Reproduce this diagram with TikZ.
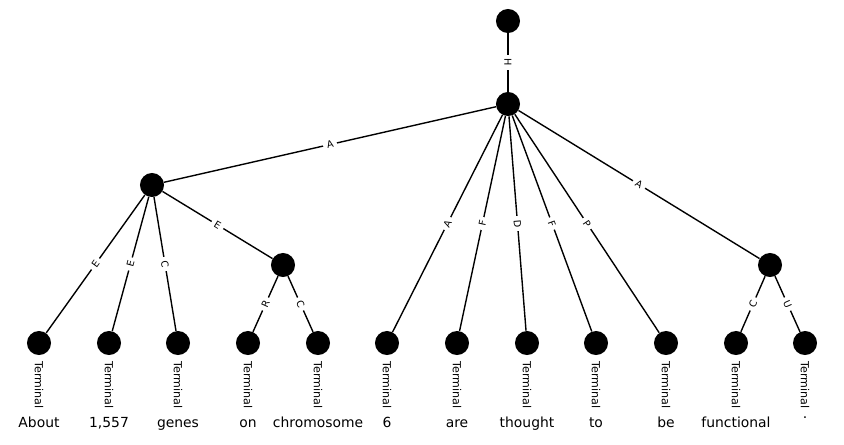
\documentclass[tikz,border=0pt]{standalone}
\usepackage{fontspec}
\setmainfont{DejaVu Sans}
\usetikzlibrary{positioning}
\begin{document}
\begin{tikzpicture}[x=0.72pt, y=-0.72pt]
\tikzstyle{unit} = [circle, fill=black, inner sep=0pt, minimum size=17.3pt]
\tikzstyle{tag} = [rotate=-90, anchor=west, font=\footnotesize, inner sep=0pt]
\tikzstyle{word} = [anchor=base, font=\normalsize, inner sep=0pt]
\tikzstyle{lbl} = [midway, sloped, fill=white, font=\scriptsize, inner xsep=2.6pt, inner ysep=1.5pt]
\tikzstyle{link} = [line width=1pt]

\useasboundingbox (0,0) rectangle (844,444);

\node (root) [unit] at (508,21) {};
\node (top) [unit] at (508,104) {};
\node (left) [unit] at (152,185) {};
\node (sub) [unit] at (283,265) {};
\node (right) [unit] at (770,265) {};

\foreach \n/\x/\w/\dy in {l1/39/About/0, l2/109/{1,557}/0, l3/178/genes/0, l4/248/on/0, l5/318/chromosome/0, l6/387/6/0, l7/457/are/0, l8/527/thought/0, l9/596/to/0, l10/666/be/0, l11/736/functional/0, l12/805/./9} {
  \node (\n) [unit] at (\x,343) {};
  \node (\n t) [tag] at ([yshift=-4.5pt]\n.south) {Terminal};
  \node (\n w) [word] at (\x,427-\dy) {\w};
}

\draw[link] (root) -- node[lbl] {H} (top);
\draw[link] (top) -- node[lbl] {A} (left);
\draw[link] (top) -- node[lbl] {A} (l6);
\draw[link] (top) -- node[lbl] {F} (l7);
\draw[link] (top) -- node[lbl] {D} (l8);
\draw[link] (top) -- node[lbl] {F} (l9);
\draw[link] (top) -- node[lbl] {P} (l10);
\draw[link] (top) -- node[lbl] {A} (right);

\draw[link] (left) -- node[lbl] {E} (l1);
\draw[link] (left) -- node[lbl] {E} (l2);
\draw[link] (left) -- node[lbl] {C} (l3);
\draw[link] (left) -- node[lbl] {E} (sub);

\draw[link] (sub) -- node[lbl] {R} (l4);
\draw[link] (sub) -- node[lbl] {C} (l5);

\draw[link] (right) -- node[lbl] {C} (l11);
\draw[link] (right) -- node[lbl] {U} (l12);

\end{tikzpicture}
\end{document}
